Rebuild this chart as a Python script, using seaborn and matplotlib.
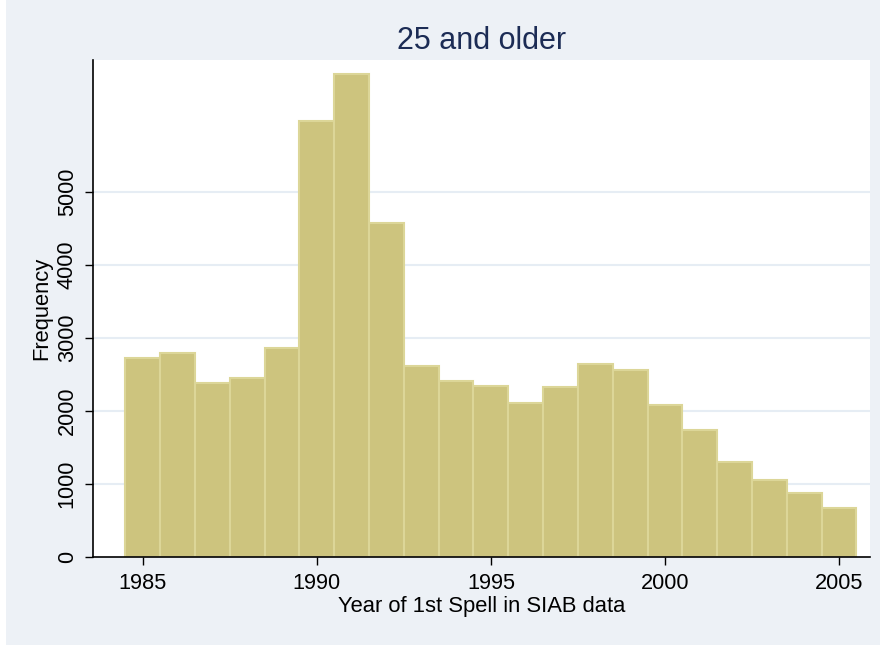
import matplotlib
matplotlib.use("Agg")
import matplotlib.pyplot as plt
import seaborn as sns
from matplotlib.patches import Rectangle

# Year of first spell and number of persons (age 25 and older)
years = [1985, 1986, 1987, 1988, 1989, 1990, 1991, 1992, 1993, 1994, 1995,
         1996, 1997, 1998, 1999, 2000, 2001, 2002, 2003, 2004, 2005]
counts = [2722, 2798, 2387, 2455, 2859, 5967, 6621, 4573, 2620, 2414, 2346,
          2112, 2332, 2639, 2557, 2081, 1734, 1303, 1048, 870, 672]
x_ticks = [1985, 1990, 1995, 2000, 2005]
y_ticks = [0, 1000, 2000, 3000, 4000, 5000]

bg = "#edf1f6"
bar_color = "#cdc47e"
edge_color = "#dcd698"

sns.set_theme(style="white")
plt.rcParams["font.family"] = ["Liberation Sans", "DejaVu Sans"]

fig = plt.figure(figsize=(8.8, 6.48), dpi=100, facecolor="white")
# Stata-like graph region (behind the axes)
fig.patches.append(Rectangle((6 / 880, 3 / 648), 874 / 880, 645 / 648,
                             transform=fig.transFigure, facecolor=bg,
                             edgecolor="none", zorder=-10))
ax = fig.add_axes([93 / 880, 1 - 556.7 / 648, 777 / 880, 496.7 / 648])
ax.set_facecolor("white")

sns.histplot(x=years, weights=counts, discrete=True, ax=ax,
             color=bar_color, edgecolor=edge_color, linewidth=1.5, alpha=1)

ax.set_xlim(1983.57, 2005.89)
ax.set_ylim(0, 6810)
ax.set_xticks(x_ticks)
ax.set_yticks(y_ticks)
ax.set_yticklabels([str(v) for v in y_ticks], rotation=90, va="center")

for v in y_ticks[1:]:
    ax.axhline(v, color="#e6edf4", linewidth=1.5, zorder=0)

for side in ["top", "right"]:
    ax.spines[side].set_visible(False)
for side in ["left", "bottom"]:
    ax.spines[side].set_color("black")
    ax.spines[side].set_linewidth(1.2)

ax.tick_params(axis="both", which="major", direction="out", length=6,
               width=1, color="black", labelsize=15.7, labelcolor="black",
               bottom=True, left=True)
ax.tick_params(axis="y", pad=5)
ax.tick_params(axis="x", pad=6)

ax.set_xlabel("Year of 1st Spell in SIAB data", fontsize=15.8, labelpad=1, color="black")
ax.set_ylabel("Frequency", fontsize=15.8, labelpad=3, color="black")
ax.set_title("25 and older", fontsize=22, color="#1c2c55", pad=8)

fig.savefig("out.png", dpi=100, facecolor="white")
